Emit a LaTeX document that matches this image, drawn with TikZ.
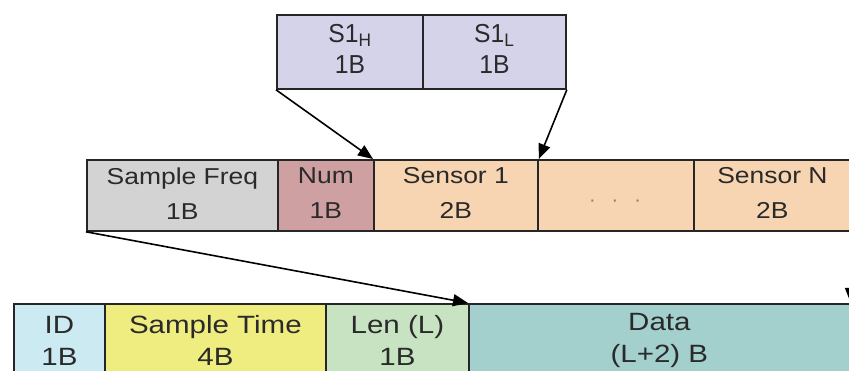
\documentclass[tikz,border=0pt]{standalone}
\usepackage{fontspec}
\setmainfont{Liberation Sans}
\newfontfamily\topfont[FakeStretch=0.95]{Liberation Sans}
\newfontfamily\midfont[FakeStretch=1.15]{Liberation Sans}
\newfontfamily\botfont[FakeStretch=1.18]{Liberation Sans}
\usetikzlibrary{arrows.meta}
\definecolor{lav}{HTML}{D5D3EA}
\definecolor{freqgray}{HTML}{D3D3D3}
\definecolor{rose}{HTML}{CFA0A2}
\definecolor{peach}{HTML}{F8D5B2}
\definecolor{lblue}{HTML}{CCEAF1}
\definecolor{yel}{HTML}{EFEC80}
\definecolor{lgreen}{HTML}{C8E3C1}
\definecolor{teal}{HTML}{A3CFCD}
\definecolor{txt}{HTML}{2A2A2A}
\begin{document}
\begin{tikzpicture}[x=1pt,y=-1pt,
  field/.style={draw=black!85, line width=1.8pt, inner sep=0pt, anchor=north west,
    align=center, text=txt},
  toprow/.style={field, minimum height=74pt, text depth=5pt,
    font=\topfont\fontsize{26}{31}\selectfont},
  midrow/.style={field, minimum height=71pt, text depth=4pt,
    font=\midfont\fontsize{23}{35}\selectfont},
  botrow/.style={field, minimum height=74pt,
    font=\botfont\fontsize{25}{32}\selectfont},
  link/.style={-{Triangle[length=15pt,width=12pt]}, line width=1.6pt, black}]
\useasboundingbox (0,0) rectangle (849,371);
\clip (0,0) rectangle (849,371);
% top row
\node[toprow, fill=lav, minimum width=146pt] (s1h) at (276,14) {S1\textsubscript{H}\\1B};
\node[toprow, fill=lav, minimum width=143pt] (s1l) at (422,14) {S1\textsubscript{L}\\1B};
% middle row
\node[midrow, fill=freqgray, minimum width=191pt] (freq) at (86,159) {Sample Freq\\1B};
\node[midrow, fill=rose, minimum width=96pt] (num) at (277,159) {Num\\1B};
\node[midrow, fill=peach, minimum width=164pt] (sen1) at (373,159) {Sensor 1\\2B};
\node[midrow, fill=peach, minimum width=156pt] (dots) at (537,159) {};
\node[midrow, fill=peach, minimum width=157pt] (senN) at (693,159) {Sensor N\\2B};
\node[anchor=base, inner sep=0pt, text=gray, font=\fontsize{20}{20}\selectfont] (dotstext) at (615,207) {·\hspace{16pt}·\hspace{16pt}·};
% bottom row
\node[botrow, fill=lblue, minimum width=91pt] (id) at (13,303) {ID\\1B};
\node[botrow, fill=yel, minimum width=221pt] (stime) at (104,303) {Sample Time\\4B};
\node[botrow, fill=lgreen, minimum width=143pt] (len) at (325,303) {Len (L)\\1B};
\node[botrow, fill=teal, minimum width=381pt] (data) at (468,303) {Data\\(L+2) B};
% connectors
\draw[link] (s1h.south west) -- (sen1.north west);
\draw[link] (s1l.south east) -- (sen1.north east);
\draw[link] (freq.south west) -- (data.north west);
\draw[link] (senN.south east) -- (data.north east);
\end{tikzpicture}
\end{document}
